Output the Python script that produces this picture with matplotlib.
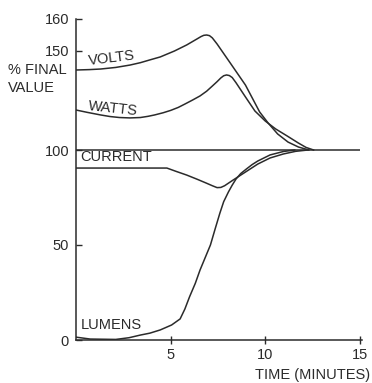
import numpy as np
import matplotlib
matplotlib.use("Agg")
import matplotlib.pyplot as plt

# values (time in minutes, % of final value)
volts_t = [0, 0.7, 1.3, 2.1, 2.85, 3.4, 3.9, 4.45, 5.2, 5.85, 6.4, 6.6, 6.75, 6.9, 7.05,
           7.2, 7.45, 8.15, 8.95, 9.7, 10.15, 10.65, 11.2, 11.75, 12.3]
volts_v = [140.4, 140.6, 140.9, 141.7, 142.9, 144.1, 145.5, 147.0, 150.0, 151.9, 153.8,
           154.5, 154.9, 155.0, 154.8, 154.1, 152.2, 143.9, 132.8, 119.2, 113.6, 108.1,
           104.0, 101.5, 100]

watts_t = [0, 0.6, 1.3, 1.8, 2.3, 2.85, 3.4, 3.8, 4.15, 4.6, 5.0, 5.4, 5.75, 6.15, 6.55,
           6.9, 7.2, 7.45, 7.65, 7.8, 7.95, 8.1, 8.25, 8.45, 8.95, 9.45, 10.0, 10.55, 11.15,
           11.75, 12.15, 12.55]
watts_v = [120.2, 119.0, 117.7, 116.9, 116.4, 116.2, 116.4, 117.0, 117.7, 118.8, 120.0,
           121.5, 123.2, 125.2, 127.3, 129.7, 132.3, 134.5, 136.4, 137.5, 137.9, 137.6,
           136.6, 134.0, 126.8, 119.7, 114.6, 110.6, 107.1, 103.5, 101.3, 100]

current_t = [0, 4.8, 5.3, 5.85, 6.4, 6.9, 7.2, 7.45, 7.65, 7.85, 8.3, 8.95, 9.6, 10.25,
             10.95, 11.6, 12.25]
current_v = [90.5, 90.5, 88.7, 86.8, 84.6, 82.5, 81.2, 80.2, 80.3, 81.2, 84.2, 88.4,
             92.6, 95.8, 97.9, 99.3, 100]

lumens_t = [0, 0.75, 2.1, 2.8, 3.4, 3.9, 4.45, 5.05, 5.5, 5.75, 6.0, 6.3, 6.55, 6.85, 7.1,
            7.35, 7.6, 7.8, 8.05, 8.25, 8.45, 8.7, 9.0, 9.3, 9.6, 10.25, 10.95, 11.55]
lumens_v = [1.5, 0.5, 0.3, 1.2, 2.6, 3.6, 5.3, 7.9, 11.1, 16.3, 22.8, 29.8, 36.8, 44.0,
            50.0, 58.5, 66.8, 72.8, 77.9, 81.5, 84.7, 87.6, 90.0, 92.3, 94.2, 97.4, 99.2,
            100]

final_t = [0, 15]
final_v = [100, 100]

x_ticks = [5, 10, 15]
y_ticks = [0, 50, 100, 150, 160]

ink = "#2b2b2b"
plt.rcParams["font.family"] = ["Liberation Sans", "DejaVu Sans"]


# the printed axis is not evenly spaced: the 150-160 step is drawn taller
def fwd(y):
    y = np.asarray(y, dtype=float)
    return np.where(y <= 100, y * 1.9,
                    np.where(y <= 150, 190 + (y - 100) * 1.98, 289 + (y - 150) * 3.2))


def inv(v):
    v = np.asarray(v, dtype=float)
    return np.where(v <= 190, v / 1.9,
                    np.where(v <= 289, 100 + (v - 190) / 1.98, 150 + (v - 289) / 3.2))


fig = plt.figure(figsize=(3.72, 3.83), dpi=100)
ax = fig.add_axes([76 / 372, 43 / 383, 284 / 372, 321 / 383])
ax.set_yscale("function", functions=(fwd, inv))

lw = 1.1
ax.plot(final_t, final_v, color=ink, lw=lw)
for t, v in [(volts_t, volts_v), (watts_t, watts_v),
             (current_t, current_v), (lumens_t, lumens_v)]:
    ax.plot(t, v, color=ink, lw=lw, solid_joinstyle="round")

ax.set_xlim(0, 15)
ax.set_ylim(0, 160)
ax.set_xticks(x_ticks)
ax.set_yticks(y_ticks)
ax.yaxis.set_minor_locator(matplotlib.ticker.NullLocator())
ax.tick_params(axis="x", direction="inout", length=6, width=1, color=ink,
               labelcolor=ink, labelsize=10.5, pad=3)
ax.tick_params(axis="y", direction="in", length=4, width=1, color=ink,
               labelcolor=ink, labelsize=10.5, pad=5)
for s in ["top", "right"]:
    ax.spines[s].set_visible(False)
for s in ["left", "bottom"]:
    ax.spines[s].set_color(ink)
    ax.spines[s].set_linewidth(1.1)
ax.spines["bottom"].set_bounds(0, 15.1)

fs = 10.5
ax.text(0.6, 146.3, "VOLTS", color=ink, fontsize=fs, rotation=7, va="center", ha="left")
ax.text(0.6, 121, "WATTS", color=ink, fontsize=fs, rotation=-6, va="center", ha="left")
ax.text(0.25, 92.5, "CURRENT", color=ink, fontsize=fs, va="bottom", ha="left")
ax.text(0.25, 4, "LUMENS", color=ink, fontsize=fs, va="bottom", ha="left")

fig.text(8 / 372, 1 - 79 / 383, "% FINAL\nVALUE", color=ink, fontsize=fs,
         ha="left", va="center", linespacing=1.3)
fig.text(370 / 372, 1 - 375 / 383, "TIME (MINUTES)", color=ink, fontsize=fs,
         ha="right", va="center")

fig.savefig("out.png", dpi=100)
plt.close(fig)
